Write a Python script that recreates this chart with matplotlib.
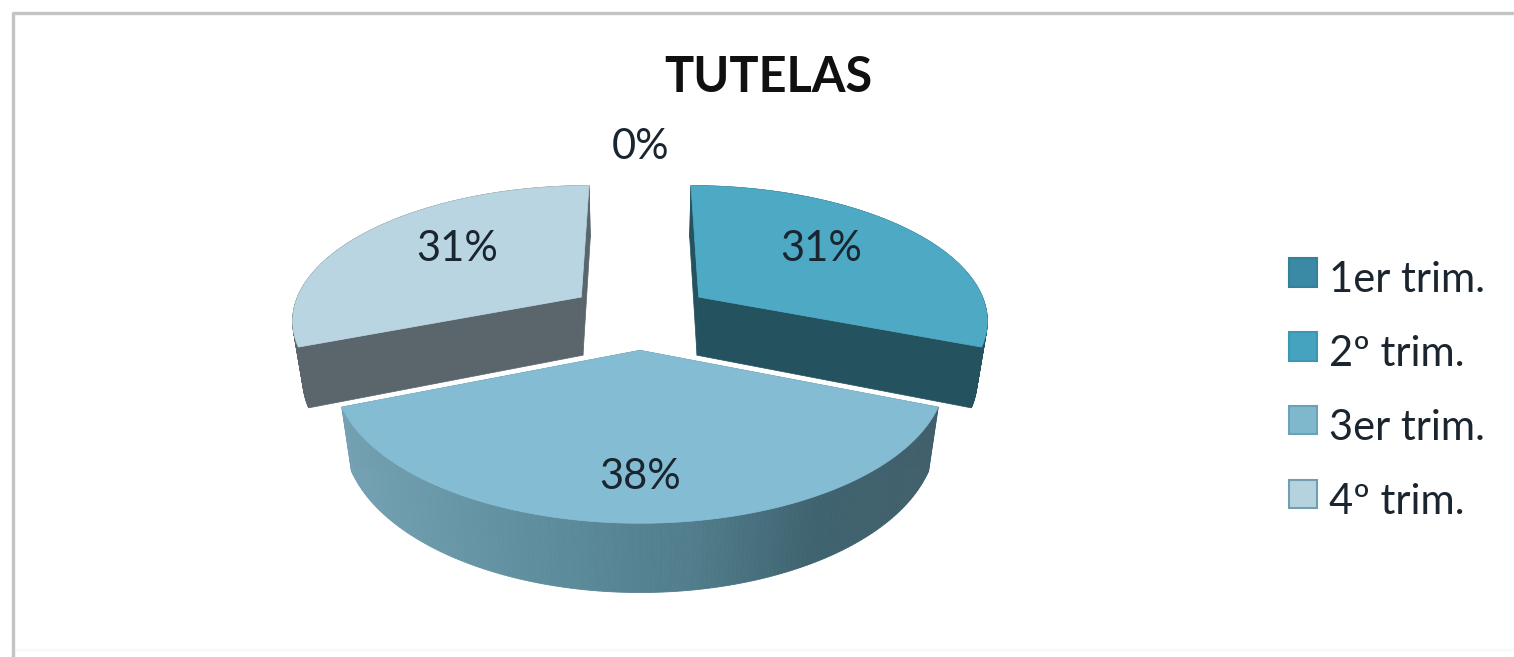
"""
3D style exploded pie chart: TUTELAS per trimester.

The pie is projected by hand since matplotlib has no 3D pie.
"""

import numpy as np
import matplotlib
matplotlib.use("Agg")
import matplotlib.pyplot as plt
from matplotlib.legend_handler import HandlerPatch
from matplotlib.patches import Patch, Polygon, Rectangle

# ============================================================
# Data
# ============================================================

title = "TUTELAS"
categories = ["1er trim.", "2º trim.", "3er trim.", "4º trim."]
values = [0, 31, 38, 31]

# ============================================================
# Styles
# ============================================================

top_colors = ["#3A8AA5", "#4DA9C4", "#84BDD3", "#B9D5E1"]
wall_colors = ["#24525F", "#24525F", "#4F7B8A", "#5A666C"]
legend_colors = ["#3A8AA5", "#45A3BF", "#7FB8CC", "#B5D3DE"]
legend_edges = ["#35819A", "#3E97B2", "#6AA3B8", "#6F9FB0"]
text_color = "#1B2530"

# shading of the front wall of the big slice, left to right
shade_pos = [0.0, 0.3, 0.6, 0.8, 1.0]
shade_rgb = np.array([
    [0x74, 0xA2, 0xB3],
    [0x60, 0x90, 0xA0],
    [0x50, 0x7C, 0x8B],
    [0x3F, 0x63, 0x6F],
    [0x41, 0x60, 0x6B],
]) / 255

label_xy = [(641, 147), (821, 249), (640, 477), (457, 249)]

# projection parameters, in pixels
CX, CY = 640.0, 315.5
RX, RY = 290.0, 134.0
PERSP = 0.155
EXPLODE = 0.25
HEIGHT = 60.0
SHRINK_X = 0.03
SHRINK_Y = 0.015


def project(x, y, z=0.0):
    """World point (y towards viewer, z downwards 0..1) to pixel position."""
    w = 1 - PERSP * np.asarray(y)
    px = CX + RX * np.asarray(x) / (w + SHRINK_X * z)
    py = CY + (RY * np.asarray(y) + HEIGHT * z) / (w + SHRINK_Y * z)
    return px, py


def wall_quad(x, y, i):
    xa, ya = project(x[i:i + 2], y[i:i + 2])
    xb, yb = project(x[i:i + 2], y[i:i + 2], 1.0)
    return np.column_stack([np.r_[xa, xb[::-1]], np.r_[ya, yb[::-1]]])


def draw_slice(ax, start, end, top, wall, shaded=False):
    """Draw one exploded slice; angles are clockwise from the back, in degrees."""
    mid = np.radians((start + end) / 2)
    ox, oy = EXPLODE * np.sin(mid), -EXPLODE * np.cos(mid)
    ang = np.radians(np.linspace(start, end, 181))
    x = ox + np.sin(ang)
    y = oy - np.cos(ang)

    # the two cut faces
    for ex, ey in ((x[0], y[0]), (x[-1], y[-1])):
        fx, fy = [ox, ex], [oy, ey]
        xa, ya = project(fx, fy)
        xb, yb = project(fx, fy, 1.0)
        pts = np.column_stack([np.r_[xa, xb[::-1]], np.r_[ya, yb[::-1]]])
        ax.add_patch(Polygon(pts, fc=wall, ec=wall, lw=0.5, zorder=2))

    # the outer wall
    sx = project(x, y)[0]
    for i in range(len(x) - 1):
        color = wall
        if shaded:
            t = (sx[i] - sx.min()) / (sx.max() - sx.min())
            color = [np.interp(t, shade_pos, shade_rgb[:, c]) for c in range(3)]
        ax.add_patch(Polygon(wall_quad(x, y, i), fc=color, ec=color, lw=0.6, zorder=2))

    # the top surface
    xs, ys = project(np.r_[ox, x], np.r_[oy, y])
    ax.add_patch(Polygon(np.column_stack([xs, ys]), fc=top, ec=top, lw=0.5, zorder=3))


def raised_square(legend, orig_handle, xdescent, ydescent, width, height, fontsize):
    # legend squares sit a little above the text baseline
    return Rectangle((-xdescent, -ydescent + 3.6), width, height)


# ============================================================
# Main
# ============================================================

def main():
    plt.rcParams["font.family"] = ["Lato", "DejaVu Sans"]

    fig = plt.figure(figsize=(15.14, 6.57), dpi=100)
    ax = fig.add_axes([0, 0, 1, 1])
    ax.set_xlim(0, 1514)
    ax.set_ylim(657, 0)
    ax.axis("off")

    # chart frame, cut off by the screenshot on the right
    ax.plot([13, 13, 1514], [657, 13, 13], color="#C4C4C4", lw=2.4, zorder=1)
    ax.plot([13, 1514], [650, 650], color="#F8F8F8", lw=1.5, zorder=0)

    edges = np.r_[0, np.cumsum(values)] / sum(values) * 360
    order = [3, 1, 2]  # the front slice goes last
    order += [i for i in range(len(values)) if i not in order]
    for i in order:
        if values[i] > 0:
            draw_slice(ax, edges[i], edges[i + 1], top_colors[i], wall_colors[i], shaded=i == 2)

    for v, (lx, ly) in zip(values, label_xy):
        ax.text(lx, ly, f"{v}%", ha="center", va="center", fontsize=30,
                color=text_color, zorder=5)

    ax.text(768, 77, title, ha="center", va="center", fontsize=35,
            fontweight="bold", color="#101010", zorder=5)

    handles = [Patch(fc=c, ec=e, lw=1.5) for c, e in zip(legend_colors, legend_edges)]
    ax.legend(handles, categories, loc="upper left", bbox_to_anchor=(1289, 261),
              bbox_transform=ax.transData, frameon=False, fontsize=30,
              handlelength=0.67, handleheight=0.67, handletextpad=0.3,
              labelspacing=0.863, borderpad=0, borderaxespad=0, labelcolor=text_color,
              handler_map={Patch: HandlerPatch(patch_func=raised_square)})

    fig.savefig("out.png", dpi=100)


if __name__ == "__main__":
    main()
